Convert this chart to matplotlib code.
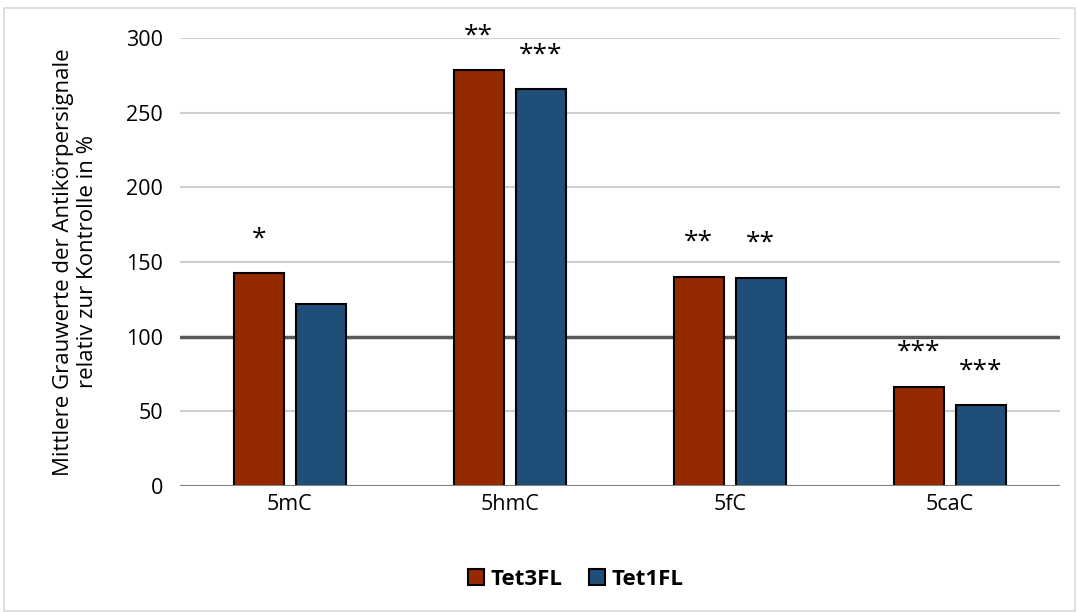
import matplotlib.pyplot as plt
import numpy as np
from matplotlib.patches import Rectangle

categories = ['5mC', '5hmC', '5fC', '5caC']
tet3fl = [142.5, 278.5, 140, 66.5]
tet1fl = [122, 265.5, 139.5, 54]
stars_tet3 = ['*', '**', '**', '***']
stars_tet1 = ['', '***', '**', '***']
yticks = [0, 50, 100, 150, 200, 250, 300]

plt.rcParams['font.family'] = ['Open Sans', 'DejaVu Sans']

fig = plt.figure(figsize=(10.77, 6.12), dpi=100)
ax = fig.add_axes([0.167, 0.206, 0.817, 0.732])

x = np.arange(len(categories))
w = 0.227
off = 0.141
ax.bar(x - off, tet3fl, w, color='#952900', edgecolor='black', linewidth=1.5, label='Tet3FL', zorder=3)
ax.bar(x + off, tet1fl, w, color='#1F4E79', edgecolor='black', linewidth=1.5, label='Tet1FL', zorder=3)

# significance stars above the bars
for i in range(len(categories)):
    if stars_tet3[i]:
        ax.text(x[i] - off, tet3fl[i] + 23, stars_tet3[i], ha='center', va='center', fontsize=19, clip_on=False)
    if stars_tet1[i]:
        ax.text(x[i] + off, tet1fl[i] + 23, stars_tet1[i], ha='center', va='center', fontsize=19, clip_on=False)

ax.set_xlim(-0.5, 3.5)
ax.set_ylim(0, 300)
ax.set_yticks(yticks)
ax.set_xticks(x)
ax.set_xticklabels(categories)
ax.tick_params(axis='both', length=0, labelsize=15.5)
ax.tick_params(axis='x', pad=6)
ax.tick_params(axis='y', pad=12)

# gridlines, the 100 % line is darker
for t in yticks[1:]:
    if t == 100:
        ax.axhline(t, color='#595959', linewidth=2.5, zorder=1)
    else:
        ax.axhline(t, color='#D0D0D0', linewidth=1.5, zorder=0)
ax.axhline(0, color='#808080', linewidth=1.5, zorder=4)
for s in ax.spines.values():
    s.set_visible(False)

ax.set_ylabel('Mittlere Grauwerte der Antikörpersignale\nrelativ zur Kontrolle in %', fontsize=16, labelpad=20)

ax.legend(loc='upper center', bbox_to_anchor=(0.45, -0.14), ncol=2, frameon=False,
          prop={'weight': 'bold', 'size': 16}, handlelength=0.7, handleheight=0.7,
          handletextpad=0.3, columnspacing=1.2)

fig.patches.append(Rectangle((0.004, 0.002), 0.994, 0.985, transform=fig.transFigure,
                             fill=False, edgecolor='#D9D9D9', linewidth=1.2))

fig.savefig('out.png', dpi=100)
